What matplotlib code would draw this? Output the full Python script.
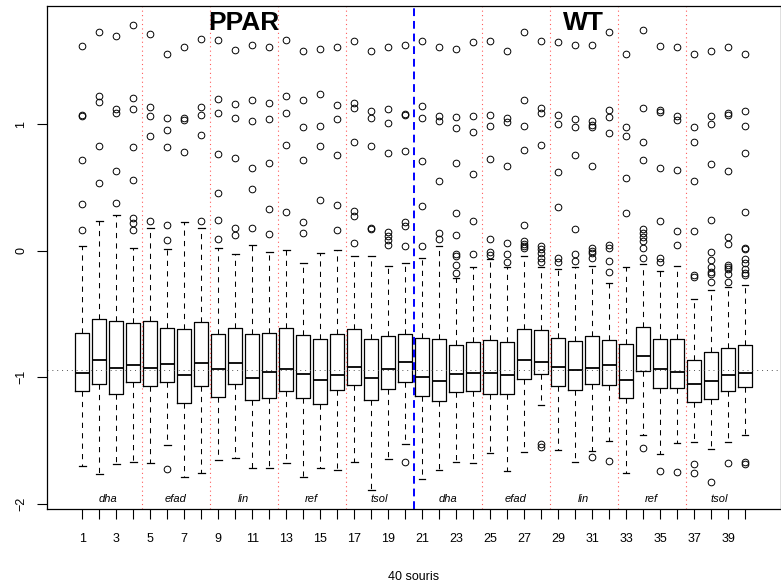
import matplotlib
matplotlib.use('Agg')
import matplotlib.pyplot as plt

plt.rcParams['font.family'] = ['Liberation Sans', 'DejaVu Sans']

# --- 1. DATA (one box per mouse) ---

# groups: 2 genotypes x 5 diets x 4 mice
GENOTYPES = ['PPAR', 'WT']
DIETS = ['dha', 'efad', 'lin', 'ref', 'tsol']
MICE_PER_DIET = 4

whisker_hi = [0.032, 0.235, 0.282, 0.024, 0.182, 0.016, 0.229, 0.177, 0.019, -0.028,
              0.045, -0.013, 0.006, -0.100, -0.016, 0.006, -0.047, -0.047, -0.119, -0.095,
              -0.055, 0.032, -0.214, -0.134, -0.066, -0.127, -0.040, -0.127, -0.147, -0.127,
              -0.119, -0.253, -0.127, -0.108, -0.158, -0.121, -0.384, -0.311, -0.285, -0.271]
q3 = [-0.649, -0.540, -0.556, -0.574, -0.556, -0.612, -0.617, -0.567, -0.662, -0.614,
      -0.662, -0.649, -0.609, -0.665, -0.701, -0.662, -0.622, -0.701, -0.672, -0.659,
      -0.691, -0.701, -0.746, -0.722, -0.707, -0.720, -0.617, -0.627, -0.693, -0.712,
      -0.672, -0.707, -0.736, -0.601, -0.696, -0.701, -0.865, -0.804, -0.770, -0.746]
medians = [-0.970, -0.865, -0.926, -0.907, -0.926, -0.896, -0.986, -0.891, -0.936, -0.888,
           -1.005, -0.962, -0.936, -0.978, -1.020, -0.981, -0.920, -1.010, -0.938, -0.878,
           -1.002, -1.031, -0.978, -0.970, -0.965, -0.981, -0.865, -0.878, -0.923, -0.944,
           -0.926, -0.907, -1.020, -0.835, -0.938, -0.960, -1.052, -1.028, -0.986, -0.965]
q1 = [-1.110, -1.057, -1.131, -1.039, -1.070, -1.039, -1.203, -1.068, -1.155, -1.052,
      -1.181, -1.165, -1.110, -1.165, -1.215, -1.102, -1.060, -1.181, -1.094, -1.036,
      -1.152, -1.192, -1.118, -1.110, -1.131, -1.131, -1.013, -0.978, -1.068, -1.102,
      -1.052, -1.063, -1.165, -0.952, -1.086, -1.089, -1.197, -1.173, -1.110, -1.081]
whisker_lo = [-1.701, -1.769, -1.690, -1.674, -1.682, -1.540, -1.790, -1.761, -1.654, -1.642,
              -1.722, -1.722, -1.681, -1.790, -1.722, -1.733, -1.674, -1.896, -1.648, -1.530,
              -1.804, -1.733, -1.672, -1.680, -1.603, -1.743, -1.593, -1.223, -1.577, -1.674,
              -1.582, -1.503, -1.761, -1.461, -1.611, -1.521, -1.513, -1.571, -1.511, -1.461]

outliers = [
    [1.620, 1.070, 1.060, 0.715, 0.367, 0.166],
    [1.728, 1.224, 1.176, 0.828, 0.536],
    [1.700, 1.119, 1.087, 0.628, 0.377],
    [1.786, 1.206, 1.119, 0.820, 0.557, 0.256, 0.214, 0.164],
    [1.709, 1.131, 1.060, 0.907, 0.237],
    [1.556, 1.044, 0.955, 0.815, 0.203, 0.085, -1.729],
    [1.606, 1.044, 1.034, 0.783],
    [1.675, 1.134, 1.074, 0.915, 0.237],
    [1.667, 1.198, 1.084, 0.765, 0.451, 0.243, 0.090],
    [1.588, 1.158, 1.044, 0.731, 0.182, 0.124],
    [1.622, 1.187, 1.026, 0.652, 0.486, 0.182],
    [1.606, 1.163, 1.040, 0.694, 0.332, 0.130],
    [1.667, 1.224, 1.084, 0.834, 0.304],
    [1.578, 1.187, 0.976, 0.715, 0.222, 0.142],
    [1.596, 1.234, 0.987, 0.828, 0.396],
    [1.606, 1.153, 1.040, 0.755, 0.362, 0.164],
    [1.657, 1.163, 1.127, 0.862, 0.312, 0.275, 0.059],
    [1.578, 1.103, 1.050, 0.828, 0.182, 0.172],
    [1.606, 1.119, 1.008, 0.775, 0.150, 0.116, 0.085, 0.045],
    [1.622, 1.079, 1.068, 0.789, 0.222, 0.195, 0.032, -1.672],
    [1.657, 1.139, 1.047, 0.707, 0.356, 0.032],
    [1.606, 1.066, 1.021, 0.546, 0.138, 0.090],
    [1.596, 1.055, 0.968, 0.696, 0.296, 0.122, -0.026, -0.047, -0.113, -0.174],
    [1.646, 1.063, 0.941, 0.604, 0.235, -0.028],
    [1.657, 1.074, 0.984, 0.723, 0.093, -0.008, -0.034],
    [1.578, 1.047, 1.016, 0.665, 0.063, -0.026, -0.087],
    [1.728, 1.187, 0.984, 0.791, 0.203, 0.079, 0.051, 0.032, 0.019],
    [1.657, 1.127, 1.087, 0.834, 0.032, 0.011, -0.021, -0.060, -0.087, -1.529, -1.551],
    [1.646, 1.074, 1.002, 0.623, 0.343, -0.060, -0.087],
    [1.627, 1.036, 0.973, 0.752, 0.174, -0.026, -0.079],
    [1.627, 1.021, 0.994, 0.976, 0.672, 0.019, 0.000, -0.021, -0.060, -1.632],
    [1.728, 1.113, 1.055, 0.926, 0.045, 0.019, -0.079, -0.169, -1.661],
    [1.556, 0.973, 0.907, 0.573, 0.296],
    [1.746, 1.127, 0.862, 0.718, 0.174, 0.138, 0.106, 0.079, 0.019, -0.055, -1.561],
    [1.617, 1.111, 1.097, 0.652, 0.235, -0.060, -0.087, -1.743],
    [1.606, 1.066, 1.034, 0.633, 0.156, 0.045, -1.753],
    [1.556, 0.973, 0.862, 0.546, 0.156, -0.192, -0.206, -1.690, -1.756],
    [1.575, 1.066, 1.000, 0.683, 0.243, -0.008, -0.074, -0.127, -0.166, -0.184, -0.250, -1.832],
    [1.606, 1.087, 1.074, 0.625, 0.106, 0.051, -0.113, -0.127, -0.145, -0.184, -0.245, -1.682],
    [1.556, 1.105, 0.987, 0.775, 0.304, 0.024, 0.011, -0.068, -0.100, -0.147, -0.174, -0.192, -1.672, -1.688],
]

# overall median level (grey dotted line)
REF_LEVEL = -0.944

# --- 2. BUILD THE BOX STATS ---

n_box = len(medians)
positions = list(range(1, n_box + 1))
stats = []
for i in range(n_box):
    stats.append(dict(med=medians[i], q1=q1[i], q3=q3[i],
                      whislo=whisker_lo[i], whishi=whisker_hi[i],
                      fliers=outliers[i]))

# --- 3. PLOT ---

fig = plt.figure(figsize=(7.81, 5.83), dpi=100)
ax = fig.add_axes([46.5 / 781, 74 / 583, 734.2 / 781, 503 / 583])

ax.bxp(stats, positions=positions, widths=0.8, capwidths=0.4, manage_ticks=False,
       boxprops=dict(color='black', linewidth=0.9),
       whiskerprops=dict(color='black', linewidth=0.75, linestyle=(0, (5, 5))),
       capprops=dict(color='black', linewidth=0.9),
       medianprops=dict(color='black', linewidth=1.3),
       flierprops=dict(marker='o', markerfacecolor='none', markeredgecolor='black',
                       markersize=4.8, markeredgewidth=0.7))

# separators between diets (red) and between genotypes (blue)
n_groups = len(GENOTYPES) * len(DIETS)
for g in range(1, n_groups):
    xsep = g * MICE_PER_DIET + 0.5
    if g == len(DIETS):
        ax.axvline(xsep, color='blue', linewidth=1.4, linestyle=(0, (4, 2.5)))
    else:
        ax.axvline(xsep, color='#ff5a5a', linewidth=0.8, linestyle=(0, (1, 3)))

ax.axhline(REF_LEVEL, color='#555555', linewidth=0.7, linestyle=(0, (1, 4)))

# diet labels at the bottom, genotype labels at the top
for g in range(n_groups):
    xc = g * MICE_PER_DIET + (MICE_PER_DIET + 1) / 2
    ax.text(xc, 0.02, DIETS[g % len(DIETS)], transform=ax.get_xaxis_transform(),
            ha='center', va='center', fontsize=8, style='italic')
n_per_geno = len(DIETS) * MICE_PER_DIET
for k, name in enumerate(GENOTYPES):
    xc = k * n_per_geno + (n_per_geno + 1) / 2
    ax.text(xc, 0.967, name, transform=ax.get_xaxis_transform(),
            ha='center', va='center', fontsize=19, fontweight='bold')

# R-like limits: 4% padding
ymin = min(min(whisker_lo), min(min(o) for o in outliers))
ymax = max(max(whisker_hi), max(max(o) for o in outliers))
pad = 0.04 * (ymax - ymin)
ax.set_ylim(ymin - pad, ymax + pad)
ax.set_xlim(0.5 - 0.04 * n_box, n_box + 0.5 + 0.04 * n_box)

ax.set_xticks(positions)
ax.set_xticklabels([str(p) if p % 2 == 1 else '' for p in positions])
ax.set_yticks([-2, -1, 0, 1])
ax.set_yticklabels(['−2', '−1', '0', '1'], rotation=90, va='center')
ax.tick_params(axis='x', length=7, width=0.8, pad=10, labelsize=9)
ax.tick_params(axis='y', length=7, width=0.8, pad=7, labelsize=9)
for sp in ax.spines.values():
    sp.set_linewidth(0.9)

fig.text(414 / 781, 1 - 576.7 / 583, '40 souris', ha='center', va='center', fontsize=9)

plt.savefig('out.png', dpi=100)
